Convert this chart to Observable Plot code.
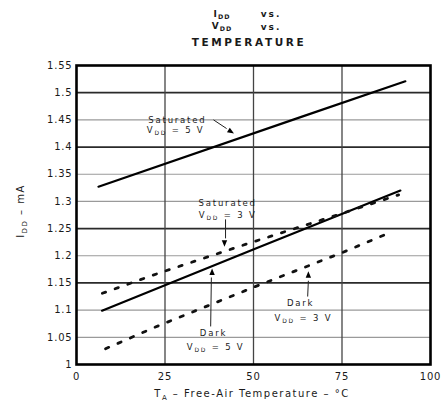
<!DOCTYPE html>
<html>
<head>
<meta charset="utf-8">
<script src="https://cdn.jsdelivr.net/npm/d3@7"></script>
<script src="https://cdn.jsdelivr.net/npm/@observablehq/plot@0.6"></script>
<style>
  body { margin: 0; background: #fff; }
  #wrap { width: 443px; height: 405px; position: relative; overflow: hidden; font-family: "DejaVu Sans", sans-serif; color: #1a1a1a; }
  #title { position: relative; height: 50px; width: 443px; font-weight: bold; }
  #title span.t { position: absolute; transform: translate(-50%, -50%); white-space: nowrap; line-height: 1; }
  #title sub { font-size: 70%; vertical-align: -2px; }
  #chart svg { display: block; }
</style>
</head>
<body>
<div id="wrap">
  <div id="title"></div>
  <div id="chart"></div>
</div>
<script>
// ---------- data ----------
const xTicks = [0, 25, 50, 75, 100];
const xTickLabels = ["0", "25", "50", "75", "100"];
const yTicks = [1, 1.05, 1.1, 1.15, 1.2, 1.25, 1.3, 1.35, 1.4, 1.45, 1.5, 1.55];
const yTickLabels = ["1", "1.05", "1.1", "1.15", "1.2", "1.25", "1.3", "1.35", "1.4", "1.45", "1.5", "1.55"];
const gridDark = [1.15, 1.25, 1.4, 1.5];
const gridLight = [1.05, 1.1, 1.2, 1.3, 1.35, 1.45];
const gridX = [25, 50, 75];

// Saturated, VDD = 5 V (solid, top)
const sat5T = [6.2, 63.3, 92.9];
const sat5I = [1.327, 1.455, 1.521];
// Saturated, VDD = 3 V (dotted, upper)
const sat3T = [7.3, 22.8, 48.2, 74.6, 91.0];
const sat3I = [1.131, 1.167, 1.222, 1.277, 1.312];
// Dark, VDD = 5 V (solid, lower)
const dark5T = [7.2, 50.1, 91.5];
const dark5I = [1.099, 1.212, 1.320];
// Dark, VDD = 3 V (dotted, lower)
const dark3T = [8.2, 22.3, 50.0, 75.1, 88.7];
const dark3I = [1.029, 1.069, 1.142, 1.206, 1.243];

// annotations (data units)
const annoText = ["Saturated", "VDD = 5 V", "Saturated", "VDD = 3 V", "Dark", "VDD = 5 V", "Dark", "VDD = 3 V"];
const annoT = [28.5, 28.0, 42.7, 42.7, 38.7, 39.3, 63.3, 64.1];
const annoI = [1.450, 1.431, 1.296, 1.274, 1.057, 1.031, 1.112, 1.085];
const stemT1 = [38.7, 42.1, 37.9, 65.3];
const stemI1 = [1.450, 1.267, 1.070, 1.125];
const stemT2 = [42.4, 42.1, 38.1, 65.5];
const stemI2 = [1.434, 1.232, 1.160, 1.154];
const headT = [43.5, 41.8, 38.3, 65.5];
const headI = [1.429, 1.224, 1.169, 1.164];
const headDir = ["downright", "down", "up", "up"];

const titleLines = ["IDD", "vs.", "VDD", "vs.", "TEMPERATURE"];
const xLabel = ["T", "A", " – Free-Air Temperature – °C"];
const yLabel = ["I", "DD", " – mA"];

// ---------- build tables ----------
function series(name, T, I, style) { return T.map((t, i) => ({series: name, style, T: t, I: I[i]})); }
const solidRows = [...series("Saturated 5 V", sat5T, sat5I, "solid"), ...series("Dark 5 V", dark5T, dark5I, "solid")];
const dotRows = [...series("Saturated 3 V", sat3T, sat3I, "dot"), ...series("Dark 3 V", dark3T, dark3I, "dot")];
const annoRows = annoText.map((t, i) => ({text: t, T: annoT[i], I: annoI[i]}));
const stemRows = stemT1.map((t, i) => ({T1: t, I1: stemI1[i], T2: stemT2[i], I2: stemI2[i]}));
const headRows = headT.map((t, i) => ({T: t, I: headI[i], dir: headDir[i]}));

function tri(angleDeg) {
  const a = angleDeg * Math.PI / 180, c = Math.cos(a), s0 = Math.sin(a);
  return {
    draw(ctx, size) {
      const s = Math.sqrt(size) * 0.9;
      const pts = [[s, 0], [-s * 0.6, s * 0.65], [-s * 0.6, -s * 0.65]].map(([x, y]) => [x * c - y * s0, x * s0 + y * c]);
      ctx.moveTo(pts[0][0], pts[0][1]);
      ctx.lineTo(pts[1][0], pts[1][1]);
      ctx.lineTo(pts[2][0], pts[2][1]);
      ctx.closePath();
    }
  };
}
const dirAngle = {up: -90, down: 90, downright: 32};

// ---------- title ----------
const title = d3.select("#title");
function tspan(el, main, sub) { el.append("span").text(main); el.append("sub").text(sub); }
const t1 = title.append("span").attr("class", "t").style("left", "222px").style("top", "15px").style("font-size", "9px").style("letter-spacing", "1px");
tspan(t1, titleLines[0].slice(0, 1), titleLines[0].slice(1));
title.append("span").attr("class", "t").style("left", "271px").style("top", "14px").style("font-size", "9px").style("letter-spacing", "2px").text(titleLines[1]);
const t2 = title.append("span").attr("class", "t").style("left", "222px").style("top", "27px").style("font-size", "9px").style("letter-spacing", "1px");
tspan(t2, titleLines[2].slice(0, 1), titleLines[2].slice(1));
title.append("span").attr("class", "t").style("left", "271px").style("top", "27px").style("font-size", "9px").style("letter-spacing", "2px").text(titleLines[3]);
title.append("span").attr("class", "t").style("left", "249px").style("top", "42px").style("font-size", "10.5px").style("letter-spacing", "2.6px").text(titleLines[4]);

// ---------- plot ----------
const plot = Plot.plot({
  width: 443,
  height: 355,
  marginLeft: 76,
  marginRight: 13,
  marginTop: 15,
  marginBottom: 41,
  style: {fontFamily: "DejaVu Sans", fontSize: "10px", color: "#1a1a1a", background: "white", overflow: "visible"},
  x: {domain: [0, 100], ticks: xTicks, tickFormat: d => xTickLabels[xTicks.indexOf(d)], tickSize: 0, tickPadding: 8, label: null},
  y: {domain: [1, 1.55], ticks: yTicks, tickFormat: d => yTickLabels[yTicks.indexOf(d)], tickSize: 0, tickPadding: 4, label: null},
  marks: [
    Plot.ruleY(gridLight, {stroke: "#9a9a9a", strokeWidth: 1.2}),
    Plot.ruleY(gridDark, {stroke: "#2a2a2a", strokeWidth: 1.8}),
    Plot.ruleX(gridX, {stroke: "#444", strokeWidth: 1.3}),
    Plot.line(solidRows, {x: "T", y: "I", z: "series", stroke: "black", strokeWidth: 2.2}),
    Plot.line(dotRows, {x: "T", y: "I", z: "series", stroke: "#111", strokeWidth: 2.8, strokeDasharray: "3.5,10", strokeLinecap: "round"}),
    Plot.frame({stroke: "black", strokeWidth: 2.6}),
    Plot.link(stemRows, {x1: "T1", y1: "I1", x2: "T2", y2: "I2", stroke: "#222", strokeWidth: 1}),
    ...Object.keys(dirAngle).map(k => Plot.dot(headRows.filter(d => d.dir === k), {x: "T", y: "I", r: 2.6, symbol: tri(dirAngle[k]), fill: "black", stroke: "none"})),
    Plot.text(annoRows, {x: "T", y: "I", text: "text", fontSize: 8.5, fill: "#1a1a1a"})
  ]
});

// subscripts and spacing for annotation texts
const svg = d3.select(plot);
svg.selectAll("text").each(function () {
  const el = d3.select(this);
  const s = el.text();
  if (annoText.includes(s)) {
    el.attr("letter-spacing", "1.8px");
    if (s.startsWith("VDD")) {
      el.text("");
      el.append("tspan").text("V");
      el.append("tspan").attr("font-size", "6px").attr("dy", "2").text("DD");
      el.append("tspan").attr("dy", "-2").text(s.slice(3));
    }
  } else {
    el.attr("letter-spacing", "0.8px");
  }
});

// axis titles
const xl = svg.append("text").attr("x", 252).attr("y", 347).attr("text-anchor", "middle")
  .attr("font-size", "10px").attr("letter-spacing", "1.5px").attr("fill", "#1a1a1a");
xl.append("tspan").text(xLabel[0]);
xl.append("tspan").attr("font-size", "7px").attr("dy", "2.5").text(xLabel[1]);
xl.append("tspan").attr("dy", "-2.5").text(xLabel[2]);

const yl = svg.append("text").attr("transform", "translate(24,161) rotate(-90)").attr("text-anchor", "middle")
  .attr("font-size", "10px").attr("letter-spacing", "1.5px").attr("fill", "#1a1a1a");
yl.append("tspan").text(yLabel[0]);
yl.append("tspan").attr("font-size", "7px").attr("dy", "2.5").text(yLabel[1]);
yl.append("tspan").attr("dy", "-2.5").text(yLabel[2]);

document.getElementById("chart").appendChild(plot);
</script>
</body>
</html>
